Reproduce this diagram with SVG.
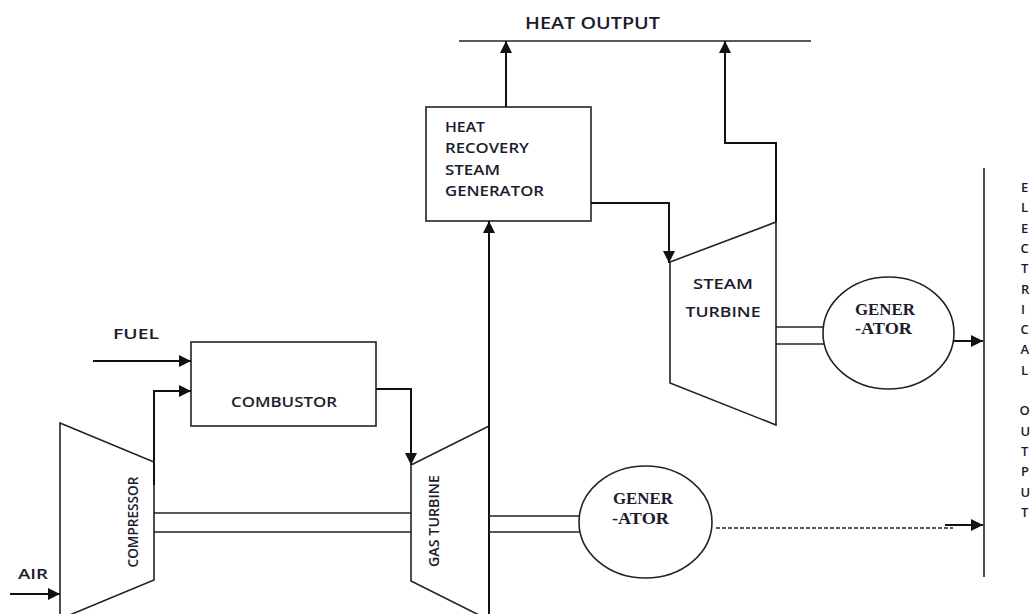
<svg xmlns="http://www.w3.org/2000/svg" width="1030" height="614" viewBox="0 0 1030 614">
<defs>
<marker id="arr" viewBox="0 0 12 12" refX="12" refY="6" markerWidth="12" markerHeight="12" markerUnits="userSpaceOnUse" orient="auto">
<path d="M0,0 L12,6 L0,12 z" fill="#111"/>
</marker>
<style>
.shape{fill:#fff;stroke:#222;stroke-width:1.6}
.line{fill:none;stroke:#222;stroke-width:1.6}
.conn{fill:none;stroke:#111;stroke-width:2}
.sans{font-family:"Open Sans","Liberation Sans",sans-serif;font-weight:600;fill:#1c1c2c}
.serif{font-family:"Liberation Serif","DejaVu Serif",serif;font-weight:bold;fill:#1c1c2c}
</style>
</defs>
<rect width="1030" height="614" fill="#fff"/>

<g id="heat-output">
<text class="sans" x="525" y="29" font-size="16" textLength="135" lengthAdjust="spacingAndGlyphs">HEAT OUTPUT</text>
<line class="line" x1="459" y1="41" x2="811" y2="41"/>
</g>

<g id="hrsg">
<rect class="shape" x="426" y="107" width="165" height="114"/>
<text class="sans" font-size="14" x="445" y="132" textLength="40" lengthAdjust="spacingAndGlyphs">HEAT</text>
<text class="sans" font-size="14" x="445" y="153" textLength="84" lengthAdjust="spacingAndGlyphs">RECOVERY</text>
<text class="sans" font-size="14" x="445" y="174.5" textLength="55" lengthAdjust="spacingAndGlyphs">STEAM</text>
<text class="sans" font-size="14" x="445" y="196" textLength="99" lengthAdjust="spacingAndGlyphs">GENERATOR</text>
</g>

<g id="steam-turbine">
<polygon class="shape" points="670,262 776,222 776,425 670,383"/>
<text class="sans" font-size="14" x="723" y="289" text-anchor="middle" textLength="60" lengthAdjust="spacingAndGlyphs">STEAM</text>
<text class="sans" font-size="14" x="723" y="317" text-anchor="middle" textLength="75" lengthAdjust="spacingAndGlyphs">TURBINE</text>
</g>

<g id="generator-1">
<ellipse class="shape" cx="888.5" cy="333" rx="65.5" ry="56"/>
<text class="serif" font-size="16.5" x="855" y="315" textLength="60" lengthAdjust="spacingAndGlyphs">GENER</text>
<text class="serif" font-size="16.5" x="855" y="333.5" textLength="57" lengthAdjust="spacingAndGlyphs">-ATOR</text>
</g>

<g id="combustor">
<rect class="shape" x="191" y="342" width="185" height="84"/>
<text class="sans" font-size="14" x="231" y="407" textLength="106" lengthAdjust="spacingAndGlyphs">COMBUSTOR</text>
</g>

<g id="compressor">
<polygon class="shape" points="60,423 154,462 154,580 60,619"/>
<text class="sans" font-size="14" transform="translate(138,522) rotate(-90)" text-anchor="middle" textLength="91" lengthAdjust="spacingAndGlyphs">COMPRESSOR</text>
</g>

<g id="gas-turbine">
<polygon class="shape" points="411,465 489,426 489,620 411,581"/>
<text class="sans" font-size="14" transform="translate(439,521) rotate(-90)" text-anchor="middle" textLength="92" lengthAdjust="spacingAndGlyphs">GAS TURBINE</text>
</g>

<g id="generator-2">
<ellipse class="shape" cx="645.5" cy="522" rx="66.5" ry="56"/>
<text class="serif" font-size="16.5" x="613" y="504" textLength="60" lengthAdjust="spacingAndGlyphs">GENER</text>
<text class="serif" font-size="16.5" x="612" y="523.5" textLength="57" lengthAdjust="spacingAndGlyphs">-ATOR</text>
</g>

<g id="fuel-label">
<text class="sans" font-size="15" x="113" y="339" textLength="46" lengthAdjust="spacingAndGlyphs">FUEL</text>
</g>
<g id="air-label">
<text class="sans" font-size="15" x="18" y="579" textLength="30" lengthAdjust="spacingAndGlyphs">AIR</text>
</g>

<g id="electrical-output">
<line class="line" x1="984" y1="168" x2="984" y2="577"/>
<g class="sans" font-size="13">
<text x="1021" y="192">E</text>
<text x="1021" y="212.3">L</text>
<text x="1021" y="232.6">E</text>
<text x="1020.5" y="252.9">C</text>
<text x="1021" y="273.2">T</text>
<text x="1021" y="293.5">R</text>
<text x="1021" y="313.8">I</text>
<text x="1020.5" y="334.1">C</text>
<text x="1020.5" y="354.4">A</text>
<text x="1021" y="374.7">L</text>
<text x="1019.5" y="415.3">O</text>
<text x="1020.5" y="435.6">U</text>
<text x="1021" y="455.9">T</text>
<text x="1021" y="476.2">P</text>
<text x="1020.5" y="496.5">U</text>
<text x="1021" y="516.8">T</text>
</g>
</g>

<g id="connectors">
<line class="conn" x1="506" y1="107" x2="506" y2="41" marker-end="url(#arr)"/>
<polyline class="conn" points="776,222 776,143 725,143 725,41" marker-end="url(#arr)"/>
<polyline class="conn" points="591,203 669,203 669,263" marker-end="url(#arr)"/>
<line class="line" x1="776" y1="327" x2="824" y2="327"/>
<line class="line" x1="776" y1="344" x2="824" y2="344"/>
<line class="conn" x1="954" y1="341" x2="983" y2="341" marker-end="url(#arr)"/>
<line class="conn" x1="93" y1="361" x2="191" y2="361" marker-end="url(#arr)"/>
<polyline class="conn" points="154,485 154,391 191,391" marker-end="url(#arr)"/>
<polyline class="conn" points="376,389 411,389 411,465" marker-end="url(#arr)"/>
<line class="conn" x1="10" y1="594" x2="60" y2="594" marker-end="url(#arr)"/>
<line class="line" x1="154" y1="513" x2="411" y2="513"/>
<line class="line" x1="154" y1="532" x2="411" y2="532"/>
<line class="conn" x1="489" y1="614" x2="489" y2="221" marker-end="url(#arr)"/>
<line class="line" x1="489" y1="516" x2="580" y2="516"/>
<line class="line" x1="489" y1="532" x2="580" y2="532"/>
<line class="line" x1="716" y1="528" x2="953" y2="528" stroke-dasharray="4,2"/>
<line class="conn" x1="945" y1="525" x2="983" y2="525" marker-end="url(#arr)"/>
</g>
</svg>
